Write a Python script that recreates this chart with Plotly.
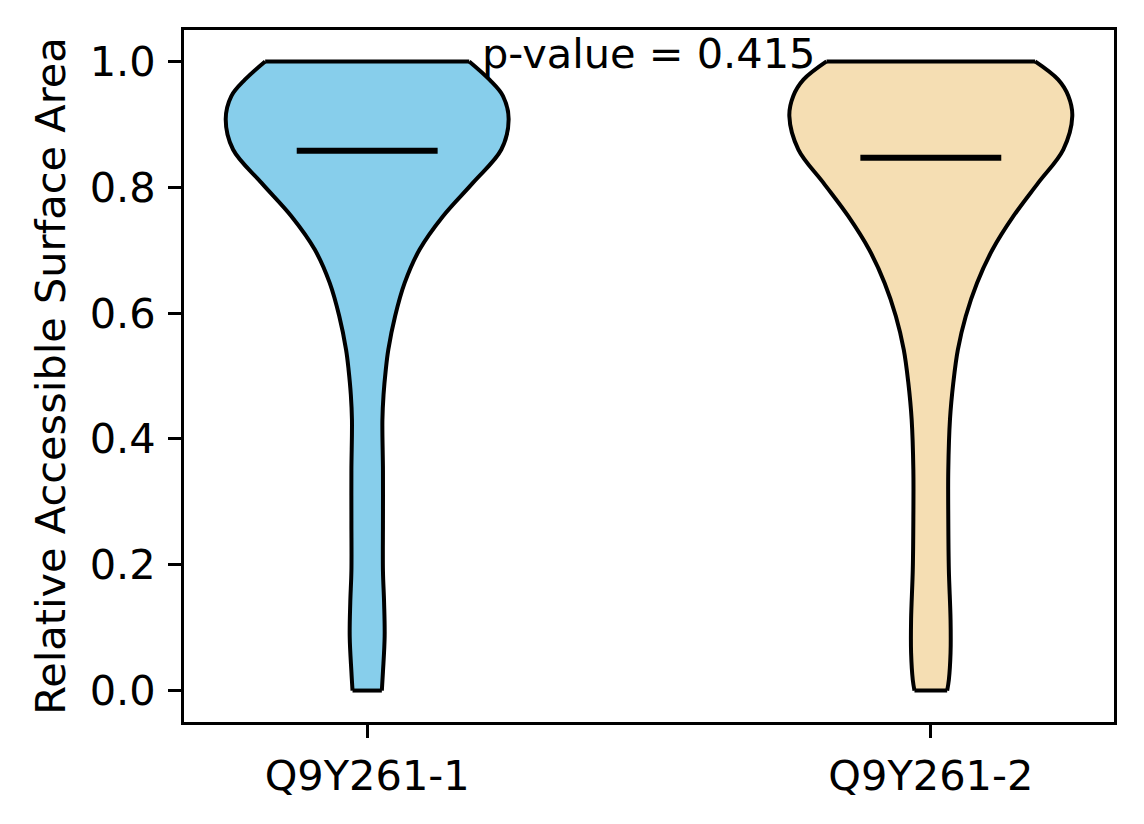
import plotly.graph_objects as go

# Groups and their positions on the x axis
groups = ["Q9Y261-1", "Q9Y261-2"]
positions = [1, 2]
fill_colors = ["#87CEEB", "#F5DEB3"]

# Violin outlines: y level -> half width (x units)
levels_1 = [0.0, 0.03, 0.086, 0.14, 0.19, 0.27, 0.35, 0.43, 0.47, 0.51, 0.542,
            0.595, 0.648, 0.701, 0.754, 0.807, 0.86, 0.908, 0.945, 0.971, 1.0]
half_1 = [0.026, 0.028, 0.031, 0.030, 0.028, 0.028, 0.028, 0.027, 0.029, 0.033, 0.0375,
          0.0495, 0.0665, 0.093, 0.1345, 0.1875, 0.238, 0.251, 0.241, 0.217, 0.181]

levels_2 = [0.0, 0.017, 0.06, 0.113, 0.192, 0.272, 0.351, 0.431, 0.49, 0.542,
            0.595, 0.648, 0.701, 0.754, 0.807, 0.86, 0.913, 0.945, 0.971, 1.0]
half_2 = [0.029, 0.032, 0.035, 0.035, 0.032, 0.031, 0.031, 0.034, 0.040, 0.048,
          0.062, 0.082, 0.1095, 0.1465, 0.1905, 0.235, 0.251, 0.244, 0.226, 0.185]

means = [0.858, 0.847]
p_value = 0.415

FONT_SIZE = 41.5

fig = go.Figure()

outlines = [(levels_1, half_1), (levels_2, half_2)]
for pos, color, (lv, hw) in zip(positions, fill_colors, outlines):
    edge = dict(color="black", width=4, shape="spline", smoothing=1.0)
    # left side, then right side filled back to it
    fig.add_trace(go.Scatter(
        x=[pos - w for w in hw], y=lv, mode="lines",
        line=edge, hoverinfo="skip", showlegend=False,
    ))
    fig.add_trace(go.Scatter(
        x=[pos + w for w in hw], y=lv, mode="lines",
        line=edge, fill="tonextx", fillcolor=color,
        hoverinfo="skip", showlegend=False,
    ))
    # flat caps at the bottom and top of the violin
    for i in (0, -1):
        fig.add_trace(go.Scatter(
            x=[pos - hw[i], pos + hw[i]], y=[lv[i], lv[i]], mode="lines",
            line=dict(color="black", width=4),
            hoverinfo="skip", showlegend=False,
        ))

# Mean markers
for pos, m in zip(positions, means):
    fig.add_trace(go.Scatter(
        x=[pos - 0.125, pos + 0.125], y=[m, m],
        mode="lines",
        line=dict(color="black", width=6),
        showlegend=False,
    ))

fig.add_annotation(
    x=1.5, y=1.013, xref="x", yref="y",
    text=f"p-value = {p_value}",
    showarrow=False,
    yanchor="middle",
    font=dict(size=FONT_SIZE, color="black"),
)

axis_style = dict(
    showline=True, linecolor="black", linewidth=3, mirror=True,
    ticks="outside", ticklen=13, tickwidth=3, tickcolor="black",
    showgrid=False, zeroline=False,
    tickfont=dict(size=FONT_SIZE, color="black"),
)

# page body adds an 8px margin, so the figure is 8px smaller than the window
fig.update_layout(
    width=1136, height=816,
    margin=dict(l=176, r=30, t=22, b=102),
    plot_bgcolor="white",
    paper_bgcolor="white",
    font=dict(family="DejaVu Sans", color="black"),
    xaxis=dict(range=[0.675, 2.325], tickvals=positions, ticktext=groups,
               ticklabelstandoff=2, **axis_style),
    yaxis=dict(range=[-0.05, 1.05], tickvals=[0, 0.2, 0.4, 0.6, 0.8, 1.0],
               tickformat=".1f", ticklabelstandoff=4,
               title=dict(text="Relative Accessible Surface Area",
                          font=dict(size=FONT_SIZE), standoff=12),
               **axis_style),
)

fig.write_html("out.html")
